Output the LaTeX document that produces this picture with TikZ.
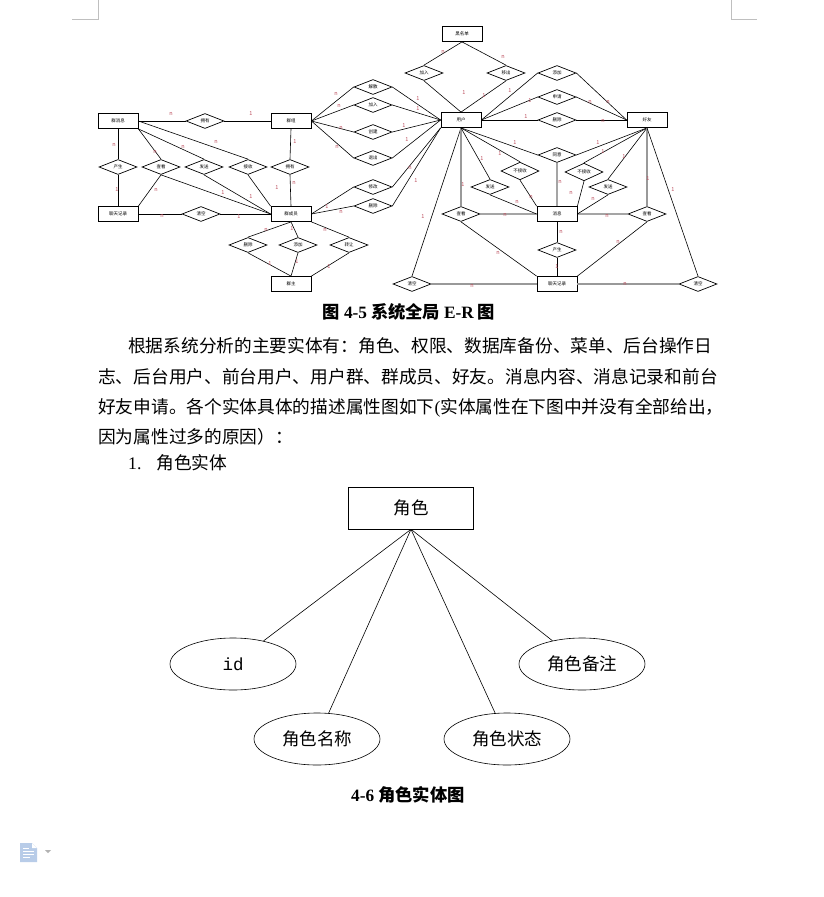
\documentclass[tikz,border=0pt]{standalone}
\usepackage{fontspec}
\setmainfont{Noto Sans CJK SC}
\setmonofont{Liberation Mono}
\newfontfamily\latfont{Liberation Serif}
\usetikzlibrary{shapes.geometric}
\definecolor{cardcol}{RGB}{190,80,95}
\definecolor{iconcol}{RGB}{184,204,232}

\begin{document}
\begin{tikzpicture}[x=1pt, y=-1pt,
ent/.style={rectangle, draw, line width=0.8pt, minimum width=40pt, minimum height=15pt, inner sep=0pt, font=\fontsize{4.5}{5}\selectfont} ,
rel/.style={diamond, draw, line width=0.7pt, minimum width=38pt, minimum height=15pt, inner sep=0pt, font=\fontsize{4.5}{5}\selectfont} ,
card/.style={inner sep=0pt, text=cardcol, font=\fontsize{5.5}{6}\selectfont} ,
link/.style={line width=0.6pt} ,
heavy/.style={line width=1.6pt, draw=gray!80} ,
attr/.style={ellipse, draw, line width=0.6pt, minimum width=126pt, minimum height=52pt, font=\fontsize{17.5}{20}\selectfont} ,
txt/.style={anchor=base west, inner sep=0pt, font=\fontsize{17.7}{20}\selectfont} ,
figcap/.style={anchor=base, inner sep=0pt, font=\fontsize{17.3}{19}\selectfont\bfseries}
]
\fill [white] (0,0) rectangle (824,897) ;
\useasboundingbox (0,0) rectangle (824,897) ;

% page corners and icon
\draw [gray!50, line width=0.8pt] (98,0) -- (98,19) -- (72,19) ;
\draw [gray!50, line width=0.8pt] (731,0) -- (731,19) -- (757,19) ;
\fill [iconcol] (20,843) -- (32,843) -- (37,848) -- (37,862) -- (20,862) -- cycle ;
\fill [white] (32,843) -- (32,848) -- (37,848) -- cycle ;
\draw [white, line width=0.9pt] (23,848) -- (29,848) (23,851) -- (34,851) (23,854) -- (34,854) (23,857) -- (30,857) ;
\fill [gray!60] (45,850) -- (51,850) -- (48,853) -- cycle ;

% global E-R diagram: entities
\node (qxx) at (118,121) [ent] {群消息} ;
\node (qz) at (291,121) [ent] {群组} ;
\node (yh) at (461,120) [ent] {用户} ;
\node (hmd) at (462,34) [ent] {黑名单} ;
\node (hy) at (647,120) [ent] {好友} ;
\node (ltjl) at (118,214) [ent] {聊天记录} ;
\node (qcy) at (291,214) [ent] {群成员} ;
\node (qzhu) at (291,284) [ent] {群主} ;
\node (xx) at (557,214) [ent] {消息} ;
\node (xxjl) at (557,284) [ent] {聊天记录} ;

% relations
\node (qyy) at (205,121) [rel] {拥有} ;
\node (qcs) at (118,167) [rel] {产生} ;
\node (qck) at (161,167) [rel] {查看} ;
\node (qfs) at (204,167) [rel] {发送} ;
\node (qjs) at (248,167) [rel] {接收} ;
\node (qyy2) at (290,167) [rel] {拥有} ;
\node (qqk) at (201,214) [rel] {清空} ;
\node (qsc) at (248,245) [rel] {删除} ;
\node (qtj) at (298,245) [rel] {添加} ;
\node (qzr) at (349,245) [rel] {转让} ;
\node (hjr) at (424,73) [rel] {加入} ;
\node (hyc) at (506,73) [rel] {移出} ;
\node (gjs) at (373,87) [rel] {解散} ;
\node (gjr) at (373,105) [rel] {加入} ;
\node (gcj) at (373,132) [rel] {创建} ;
\node (gtc) at (373,158) [rel] {退出} ;
\node (gxg) at (373,187) [rel] {修改} ;
\node (gsc) at (373,206) [rel] {删除} ;
\node (uqk) at (412,284) [rel] {清空} ;
\node (uck) at (461,214) [rel] {查看} ;
\node (ufs) at (490,187) [rel] {发送} ;
\node (ubj) at (520,171) [rel] {不接收} ;
\node (uty) at (557,155) [rel] {同意} ;
\node (fbj) at (584,172) [rel] {不接收} ;
\node (ffs) at (608,187) [rel] {发送} ;
\node (fck) at (647,214) [rel] {查看} ;
\node (xcs) at (557,250) [rel] {产生} ;
\node (fqk) at (698,284) [rel] {清空} ;
\node (ftj) at (557,73) [rel] {添加} ;
\node (fsq) at (557,97) [rel] {申请} ;
\node (fsc) at (557,120) [rel] {删除} ;

% connectors
\draw [link] (qxx.east) -- (qyy.west) (qyy.east) -- (qz.west) ;
\draw [link] (qxx.south) -- (qcs.north) (qcs.south) -- (ltjl.north) ;
\draw [link] (qxx.south east) -- (qck.north) (qck.south) -- (ltjl.north east) (qck.south) -- (qcy.west) ;
\draw [link] (qxx.south east) -- (qfs.north) (qfs.south) -- (qcy.west) ;
\draw [link] (qxx.east) -- (qjs.north) (qjs.south) -- (qcy.north west) ;
\draw [link] (qz.south) -- (qyy2.north) (qyy2.south) -- (qcy.north) ;
\draw [link] (ltjl.east) -- (qqk.west) (qqk.east) -- (qcy.west) ;
\foreach \r in {qsc, qtj} \draw [link] (qcy.south) -- (\r.north) (\r.south) -- (qzhu.north) ;
\draw [link] (qcy.south east) -- (qzr.north) (qzr.south) -- (qzhu.north east) ;
\foreach \r in {hjr, hyc} \draw [link] (hmd.south) -- (\r.north) (\r.south) -- (yh.north) ;
\foreach \r in {gjs, gjr, gcj, gtc} \draw [link] (qz.east) -- (\r.west) (\r.east) -- (yh.west) ;
\foreach \r in {gxg, gsc} \draw [link] (qcy.east) -- (\r.west) (\r.east) -- (yh.south west) ;
\foreach \r in {ftj, fsq, fsc} \draw [link] (yh.east) -- (\r.west) (\r.east) -- (hy.west) ;
\draw [link] (yh.south) -- (uqk.north) ;
\draw [heavy] (uqk.east) -- (xxjl.west) ;
\draw [heavy] (yh.south) -- (uck.north) ;
\draw [link] (uck.east) -- (xx.west) (uck.south) -- (xxjl.north west) ;
\draw [link] (yh.south) -- (ufs.north) (ufs.south) -- (xx.west) ;
\draw [link] (yh.south) -- (ubj.north) (ubj.south) -- (xx.north west) ;
\draw [link] (yh.south) -- (uty.west) (uty.east) -- (hy.south) (uty.south) -- (xx.north) ;
\draw [link] (hy.south) -- (fbj.north) (fbj.south) -- (xx.north east) ;
\draw [link] (hy.south) -- (ffs.north) (ffs.south) -- (xx.east) ;
\draw [heavy] (hy.south) -- (fck.north) ;
\draw [link] (fck.west) -- (xx.east) (fck.south) -- (xxjl.north east) ;
\draw [link] (xx.south) -- (xcs.north) (xcs.south) -- (xxjl.north) ;
\draw [heavy] (xxjl.east) -- (fqk.west) ;
\draw [link] (fqk.north) -- (hy.south) ;

% cardinalities
\foreach \x/\y/\t in {171/114/n, 251/114/1, 114/145/n, 155/152/n, 183/147/n, 216/142/n, 295/142/1,
    117/190/1, 156/190/n, 223/193/1, 251/197/1, 277/188/1, 294/183/n, 162/216/n, 239/217/1,
    266/230/n, 292/229/1, 270/264/1, 297/262/1, 327/207/1, 341/212/n, 325/230/n, 329/267/1,
    443/52/n, 503/57/n, 464/93/1, 484/96/1, 510/91/1, 336/94/n, 339/106/n, 341/128/n, 337/147/n,
    418/99/1, 418/109/1, 404/126/1, 407/140/1, 410/168/n, 416/181/1, 482/159/1, 500/154/1,
    463/185/1, 423/217/1, 505/215/n, 498/253/n, 472/286/n, 515/143/1, 530/101/1, 526/117/1,
    590/102/n, 608/102/n, 603/121/n, 598/143/1, 603/152/1, 624/157/1, 531/197/n, 517/202/n,
    560/182/n, 571/193/n, 593/199/n, 648/179/1, 673/190/1, 607/216/n, 561/232/n, 557/267/1,
    618/242/n, 625/284/n}
    \node (c\x-\y) at (\x,\y) [card] {\t} ;

% captions and text
\node (cap45) at (409,318) [figcap] {图 {\latfont 4-5} 系统全局 {\latfont E-R} 图} ;
\node (p1) at (128,352) [txt] {根据系统分析的主要实体有：角色、权限、数据库备份、菜单、后台操作日} ;
\node (p2) at (98,383) [txt] {志、后台用户、前台用户、用户群、群成员、好友。消息内容、消息记录和前台} ;
\node (p3) at (98,413) [txt] {好友申请。各个实体具体的描述属性图如下{\latfont(}实体属性在下图中并没有全部给出，} ;
\node (p4) at (98,443) [txt] {因为属性过多的原因）：} ;
\node (p5) at (128,469) [txt] {{\latfont 1.}\hspace{15pt}角色实体} ;

% role entity
\node (role) at (411,508) [rectangle, draw, line width=0.6pt, minimum width=125pt, minimum height=42pt, font=\fontsize{17.5}{20}\selectfont] {角色} ;
\node (rid) at (233,664) [attr] {\ttfamily id} ;
\node (rnote) at (582,664) [attr] {角色备注} ;
\node (rname) at (317,739) [attr] {角色名称} ;
\node (rstate) at (507,739) [attr] {角色状态} ;
\foreach \a in {rid, rname, rstate, rnote} \draw [link] (role.south) -- (\a) ;

\node (cap46) at (408,801) [figcap] {{\latfont 4-6} 角色实体图} ;
\end{tikzpicture}
\end{document}
